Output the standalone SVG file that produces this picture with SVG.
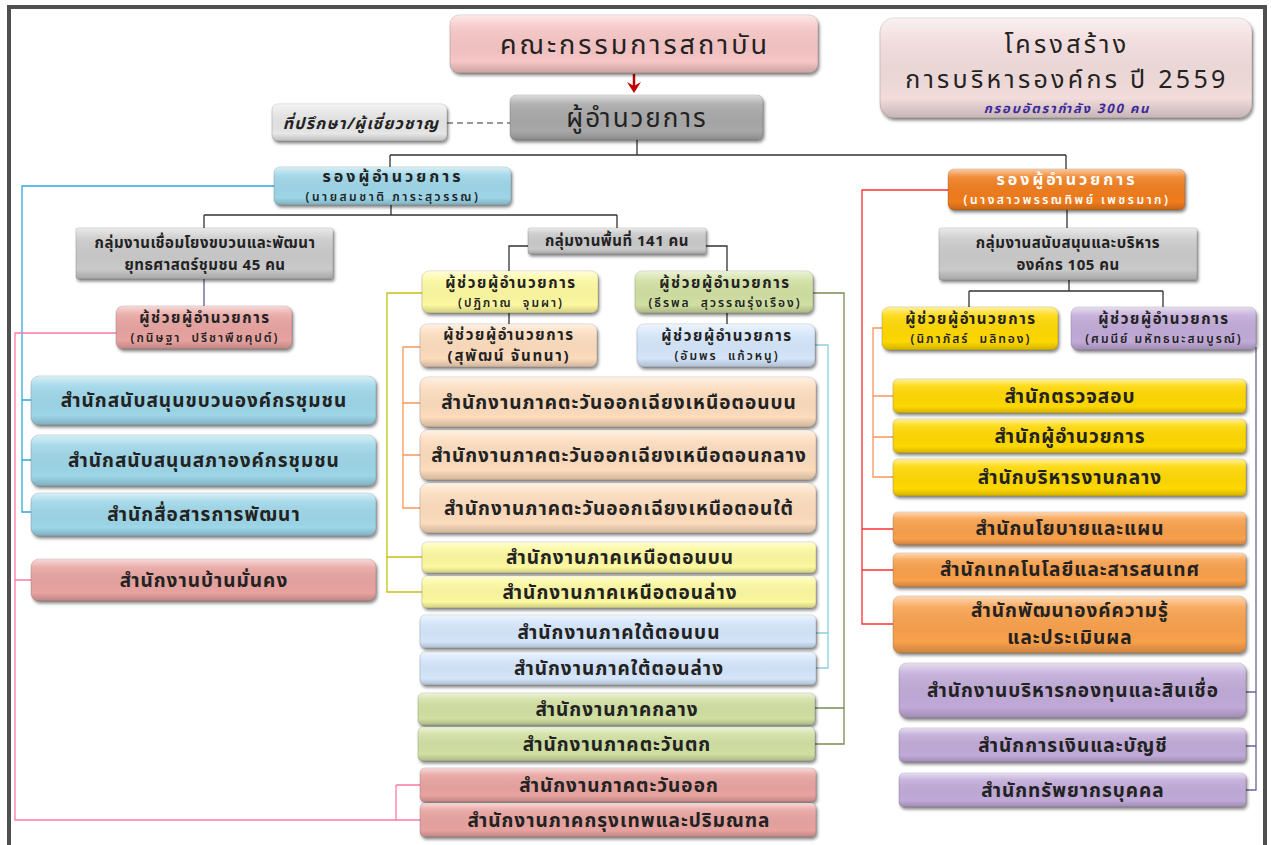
<svg xmlns="http://www.w3.org/2000/svg" width="1271" height="845" viewBox="0 0 1271 845">
<defs>
<filter id="sh" x="-10%" y="-20%" width="120%" height="150%"><feDropShadow dx="1.5" dy="2.5" stdDeviation="1.8" flood-color="#000" flood-opacity="0.45"/></filter>
<linearGradient id="gl" x1="0" y1="0" x2="0" y2="1"><stop offset="0" stop-color="#fff" stop-opacity="0.6"/><stop offset="0.2" stop-color="#fff" stop-opacity="0.12"/><stop offset="0.8" stop-color="#000" stop-opacity="0"/><stop offset="1" stop-color="#000" stop-opacity="0.18"/></linearGradient>
<style>
text{font-family:"Noto Sans Thai","Noto Sans","DejaVu Sans",sans-serif;fill:#222;text-anchor:middle;font-weight:bold;white-space:pre}
.b{stroke:rgba(0,0,0,0.15);stroke-width:1;filter:url(#sh)}
.g{fill:url(#gl);stroke:none}
.o{font-size:19px;letter-spacing:1px}
.a{font-size:15px;letter-spacing:1.6px}
.n{font-size:12px;letter-spacing:2px;font-weight:600}
.d{font-size:16px;letter-spacing:3px}
.dn{font-size:12px;letter-spacing:2.5px;font-weight:600}
.gr{font-size:15px;letter-spacing:0.5px}
.tt{font-size:25px;letter-spacing:3.3px;font-weight:normal}
.c{fill:none;stroke-width:1.3}
</style>
</defs>
<rect width="1271" height="845" fill="#fff"/>
<path d="M9,845 V7 H1265 V845" fill="none" stroke="#505050" stroke-width="4"/>

<g id="connectors">
<line x1="634" y1="74" x2="634" y2="86" stroke="#c00000" stroke-width="2.5"/>
<polygon points="627,82 634,93 641,82 634,86" fill="#c00000"/>
<path class="c" d="M447,123 H510" stroke="#777" stroke-dasharray="6,4"/>
<path class="c" stroke="#333" d="M637,140 V155 M390,155 H1066 M390,155 V168 M1066,155 V169 M391,205 V215 M204,215 H617 M204,215 V228 M617,215 V228 M528,246 H509 V271 M706,246 H727 V271 M509,313 V324 M727,313 V324 M1067,210 V228 M1069,280 V291 M969,291 H1163 M969,291 V307 M1163,291 V307"/>
<path class="c" stroke="#6a5a8a" d="M204,279 V306"/>
<path class="c" stroke="#29abe2" d="M274,186 H22 V512 H31 M22,400 H31 M22,460 H31"/>
<path class="c" stroke="#ff7aa8" d="M116,333 H15 V820 H420 M15,580 H31 M396,785 H420 M396,785 V820"/>
<path class="c" stroke="#c8c010" d="M422,293 H387 V592 H422 M387,557 H422"/>
<path class="c" stroke="#f7965a" d="M420,347 H403 V508 H420 M403,403 H420 M403,455 H420"/>
<path class="c" stroke="#8ccfe0" d="M815,345 H828 V668 H816 M828,633 H816"/>
<path class="c" stroke="#7a8a50" d="M813,293 H844 V744 H815 M844,708 H815"/>
<path class="c" stroke="#ff3030" d="M948,190 H862 V624 H893 M862,529 H893 M862,570 H893"/>
<path class="c" stroke="#f7965a" d="M882,328 H873 V477 H893 M873,396 H893 M873,437 H893"/>
<path class="c" stroke="#7060a0" d="M1256,347 V790 H1246 M1256,692 H1246 M1256,746 H1246"/>
</g>

<g id="board"><rect class="b" x="450" y="15" width="368" height="58" rx="9" fill="#f7c5c5"/><rect class="g" x="450" y="15" width="368" height="58" rx="9"/><text x="635" y="54" style="font-size:27px;letter-spacing:3px;font-weight:normal">คณะกรรมการสถาบัน</text></g>
<g id="title"><rect class="b" x="880" y="18" width="372" height="100" rx="14" fill="#f2dcdc"/><rect class="g" x="880" y="18" width="372" height="100" rx="14"/><text class="tt" x="1067" y="53">โครงสร้าง</text><text class="tt" x="1067" y="88">การบริหารองค์กร ปี 2559</text><text x="1067" y="113" style="font-size:13px;letter-spacing:1.8px;font-style:italic;fill:#3a2a9a">กรอบอัตรากำลัง 300 คน</text></g>
<g id="director"><rect class="b" x="510" y="95" width="253" height="45" rx="6" fill="#a8a8a8"/><rect class="g" x="510" y="95" width="253" height="45" rx="6"/><text x="637" y="127" style="font-size:26px;letter-spacing:2px;font-weight:normal">ผู้อำนวยการ</text></g>
<g id="advisor"><rect class="b" x="272" y="104" width="175" height="37" rx="6" fill="#e6e6e6"/><rect class="g" x="272" y="104" width="175" height="37" rx="6"/><text x="361" y="129" style="font-size:16px;letter-spacing:1.2px;font-style:italic">ที่ปรึกษา/ผู้เชี่ยวชาญ</text></g>

<g id="deputy-left"><rect class="b" x="274" y="167" width="237" height="38" rx="6" fill="#9dd6e8"/><rect class="g" x="274" y="167" width="237" height="38" rx="6"/><text class="d" x="393" y="182">รองผู้อำนวยการ</text><text class="dn" x="393" y="200.5">(นายสมชาติ ภาระสุวรรณ)</text></g>
<g id="deputy-right"><rect class="b" x="948" y="169" width="237" height="41" rx="6" fill="#f07c1e"/><rect class="g" x="948" y="169" width="237" height="41" rx="6"/><text class="d" x="1067" y="185" style="fill:#fff">รองผู้อำนวยการ</text><text class="dn" x="1067" y="204" style="fill:#fff">(นางสาวพรรณทิพย์ เพชรมาก)</text></g>

<g id="grp-link"><rect class="b" x="76" y="228" width="257" height="51" rx="2" fill="#cacaca"/><rect class="g" x="76" y="228" width="257" height="51" rx="2"/><text class="gr" x="205" y="248">กลุ่มงานเชื่อมโยงขบวนและพัฒนา</text><text class="gr" x="205" y="270">ยุทธศาสตร์ชุมชน 45 คน</text></g>
<g id="grp-area"><rect class="b" x="528" y="228" width="178" height="26" rx="2" fill="#cacaca"/><rect class="g" x="528" y="228" width="178" height="26" rx="2"/><text class="gr" x="617" y="246">กลุ่มงานพื้นที่ 141 คน</text></g>
<g id="grp-support"><rect class="b" x="939" y="228" width="258" height="52" rx="2" fill="#cacaca"/><rect class="g" x="939" y="228" width="258" height="52" rx="2"/><text class="gr" x="1068" y="248">กลุ่มงานสนับสนุนและบริหาร</text><text class="gr" x="1068" y="270">องค์กร 105 คน</text></g>

<g id="asst-kanittha"><rect class="b" x="116" y="306" width="176" height="43" rx="7" fill="#e8a3a0"/><rect class="g" x="116" y="306" width="176" height="43" rx="7"/><text class="a" x="205" y="323">ผู้ช่วยผู้อำนวยการ</text><text class="n" x="205" y="342">(กนิษฐา  ปรีชาพืชคุปต์)</text></g>
<g id="asst-patiphan"><rect class="b" x="422" y="271" width="176" height="42" rx="7" fill="#fdf9a0"/><rect class="g" x="422" y="271" width="176" height="42" rx="7"/><text class="a" x="511" y="288">ผู้ช่วยผู้อำนวยการ</text><text class="n" x="511" y="307">(ปฏิภาณ  จุมผา)</text></g>
<g id="asst-theerapon"><rect class="b" x="635" y="271" width="178" height="42" rx="7" fill="#d1e0a2"/><rect class="g" x="635" y="271" width="178" height="42" rx="7"/><text class="a" x="725" y="288">ผู้ช่วยผู้อำนวยการ</text><text class="n" x="725" y="307">(ธีรพล  สุวรรณรุ่งเรือง)</text></g>
<g id="asst-supat"><rect class="b" x="420" y="324" width="177" height="43" rx="7" fill="#fddcbd"/><rect class="g" x="420" y="324" width="177" height="43" rx="7"/><text class="a" x="509" y="340">ผู้ช่วยผู้อำนวยการ</text><text class="a" x="509" y="361" style="letter-spacing:1.75px">(สุพัฒน์ จันทนา)</text></g>
<g id="asst-amporn"><rect class="b" x="637" y="324" width="178" height="43" rx="7" fill="#d5e6fb"/><rect class="g" x="637" y="324" width="178" height="43" rx="7"/><text class="a" x="727" y="341">ผู้ช่วยผู้อำนวยการ</text><text class="n" x="727" y="360">(อัมพร  แก้วหนู)</text></g>
<g id="asst-nipaphat"><rect class="b" x="882" y="307" width="176" height="43" rx="7" fill="#ffd800"/><rect class="g" x="882" y="307" width="176" height="43" rx="7"/><text class="a" x="971" y="324">ผู้ช่วยผู้อำนวยการ</text><text class="n" x="971" y="343">(นิภาภัสร์  มลิทอง)</text></g>
<g id="asst-samanee"><rect class="b" x="1071" y="307" width="185" height="43" rx="7" fill="#c1aad8"/><rect class="g" x="1071" y="307" width="185" height="43" rx="7"/><text class="a" x="1164" y="324">ผู้ช่วยผู้อำนวยการ</text><text class="n" x="1164" y="343">(ศมนีย์ มหัทธนะสมบูรณ์)</text></g>

<g id="off-l1"><rect class="b" x="31" y="376" width="345" height="49" rx="8" fill="#9dd6e8"/><rect class="g" x="31" y="376" width="345" height="49" rx="8"/><text class="o" x="204" y="407">สำนักสนับสนุนขบวนองค์กรชุมชน</text></g>
<g id="off-l2"><rect class="b" x="31" y="435" width="345" height="51" rx="8" fill="#9dd6e8"/><rect class="g" x="31" y="435" width="345" height="51" rx="8"/><text class="o" x="204" y="467">สำนักสนับสนุนสภาองค์กรชุมชน</text></g>
<g id="off-l3"><rect class="b" x="31" y="493" width="345" height="43" rx="8" fill="#9dd6e8"/><rect class="g" x="31" y="493" width="345" height="43" rx="8"/><text class="o" x="204" y="521">สำนักสื่อสารการพัฒนา</text></g>
<g id="off-l4"><rect class="b" x="31" y="559" width="345" height="42" rx="8" fill="#e8a3a0"/><rect class="g" x="31" y="559" width="345" height="42" rx="8"/><text class="o" x="204" y="587">สำนักงานบ้านมั่นคง</text></g>

<g id="off-m1"><rect class="b" x="420" y="377" width="396" height="50" rx="8" fill="#fddcbd"/><rect class="g" x="420" y="377" width="396" height="50" rx="8"/><text class="o" x="619" y="409">สำนักงานภาคตะวันออกเฉียงเหนือตอนบน</text></g>
<g id="off-m2"><rect class="b" x="420" y="430" width="396" height="50" rx="8" fill="#fddcbd"/><rect class="g" x="420" y="430" width="396" height="50" rx="8"/><text class="o" x="619" y="462">สำนักงานภาคตะวันออกเฉียงเหนือตอนกลาง</text></g>
<g id="off-m3"><rect class="b" x="420" y="483" width="396" height="50" rx="8" fill="#fddcbd"/><rect class="g" x="420" y="483" width="396" height="50" rx="8"/><text class="o" x="619" y="515">สำนักงานภาคตะวันออกเฉียงเหนือตอนใต้</text></g>
<g id="off-m4"><rect class="b" x="422" y="542" width="394" height="31" rx="5" fill="#fdf9a0"/><rect class="g" x="422" y="542" width="394" height="31" rx="5"/><text class="o" x="620" y="564">สำนักงานภาคเหนือตอนบน</text></g>
<g id="off-m5"><rect class="b" x="422" y="576" width="394" height="32" rx="5" fill="#fdf9a0"/><rect class="g" x="422" y="576" width="394" height="32" rx="5"/><text class="o" x="620" y="599">สำนักงานภาคเหนือตอนล่าง</text></g>
<g id="off-m6"><rect class="b" x="420" y="615" width="396" height="33" rx="5" fill="#d5e6fb"/><rect class="g" x="420" y="615" width="396" height="33" rx="5"/><text class="o" x="619" y="639">สำนักงานภาคใต้ตอนบน</text></g>
<g id="off-m7"><rect class="b" x="420" y="652" width="396" height="33" rx="5" fill="#d5e6fb"/><rect class="g" x="420" y="652" width="396" height="33" rx="5"/><text class="o" x="619" y="675">สำนักงานภาคใต้ตอนล่าง</text></g>
<g id="off-m8"><rect class="b" x="418" y="693" width="397" height="32" rx="5" fill="#d1e0a2"/><rect class="g" x="418" y="693" width="397" height="32" rx="5"/><text class="o" x="617" y="716">สำนักงานภาคกลาง</text></g>
<g id="off-m9"><rect class="b" x="418" y="727" width="397" height="34" rx="5" fill="#d1e0a2"/><rect class="g" x="418" y="727" width="397" height="34" rx="5"/><text class="o" x="617" y="751">สำนักงานภาคตะวันตก</text></g>
<g id="off-m10"><rect class="b" x="420" y="768" width="396" height="34" rx="5" fill="#e8a3a0"/><rect class="g" x="420" y="768" width="396" height="34" rx="5"/><text class="o" x="619" y="792">สำนักงานภาคตะวันออก</text></g>
<g id="off-m11"><rect class="b" x="420" y="803" width="396" height="34" rx="5" fill="#e8a3a0"/><rect class="g" x="420" y="803" width="396" height="34" rx="5"/><text class="o" x="619" y="827">สำนักงานภาคกรุงเทพและปริมณฑล</text></g>

<g id="off-r1"><rect class="b" x="893" y="379" width="353" height="34" rx="5" fill="#ffd800"/><rect class="g" x="893" y="379" width="353" height="34" rx="5"/><text class="o" x="1070" y="403">สำนักตรวจสอบ</text></g>
<g id="off-r2"><rect class="b" x="893" y="419" width="353" height="34" rx="5" fill="#ffd800"/><rect class="g" x="893" y="419" width="353" height="34" rx="5"/><text class="o" x="1070" y="443">สำนักผู้อำนวยการ</text></g>
<g id="off-r3"><rect class="b" x="893" y="459" width="353" height="37" rx="5" fill="#ffd800"/><rect class="g" x="893" y="459" width="353" height="37" rx="5"/><text class="o" x="1070" y="484">สำนักบริหารงานกลาง</text></g>
<g id="off-r4"><rect class="b" x="893" y="512" width="353" height="33" rx="5" fill="#f9a04c"/><rect class="g" x="893" y="512" width="353" height="33" rx="5"/><text class="o" x="1070" y="535">สำนักนโยบายและแผน</text></g>
<g id="off-r5"><rect class="b" x="893" y="553" width="353" height="34" rx="5" fill="#f9a04c"/><rect class="g" x="893" y="553" width="353" height="34" rx="5"/><text class="o" x="1070" y="576">สำนักเทคโนโลยีและสารสนเทศ</text></g>
<g id="off-r6"><rect class="b" x="893" y="596" width="353" height="57" rx="7" fill="#f9a04c"/><rect class="g" x="893" y="596" width="353" height="57" rx="7"/><text class="o" x="1070" y="617">สำนักพัฒนาองค์ความรู้</text><text class="o" x="1070" y="644">และประเมินผล</text></g>
<g id="off-r7"><rect class="b" x="899" y="663" width="347" height="55" rx="8" fill="#c1aad8"/><rect class="g" x="899" y="663" width="347" height="55" rx="8"/><text class="o" x="1073" y="697">สำนักงานบริหารกองทุนและสินเชื่อ</text></g>
<g id="off-r8"><rect class="b" x="899" y="728" width="347" height="34" rx="5" fill="#c1aad8"/><rect class="g" x="899" y="728" width="347" height="34" rx="5"/><text class="o" x="1073" y="752">สำนักการเงินและบัญชี</text></g>
<g id="off-r9"><rect class="b" x="899" y="773" width="347" height="34" rx="5" fill="#c1aad8"/><rect class="g" x="899" y="773" width="347" height="34" rx="5"/><text class="o" x="1073" y="797">สำนักทรัพยากรบุคคล</text></g>
</svg>
